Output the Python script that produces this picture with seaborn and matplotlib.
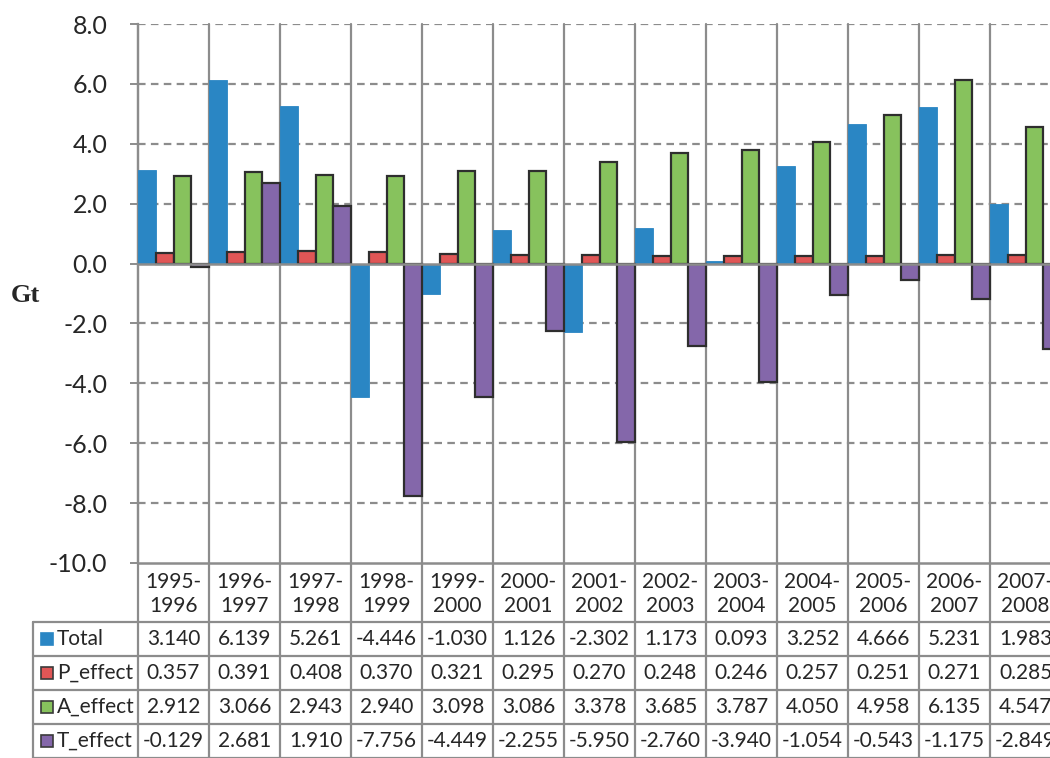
import numpy as np
import pandas as pd
import matplotlib
matplotlib.use("Agg")
import matplotlib.pyplot as plt
import matplotlib.transforms as mtransforms
from matplotlib.lines import Line2D
from matplotlib.patches import Rectangle
import seaborn as sns

# ---- data (Gt) ----
periods = ["1995-\n1996", "1996-\n1997", "1997-\n1998", "1998-\n1999", "1999-\n2000",
           "2000-\n2001", "2001-\n2002", "2002-\n2003", "2003-\n2004", "2004-\n2005",
           "2005-\n2006", "2006-\n2007", "2007-\n2008"]
series_names = ["Total", "P_effect", "A_effect", "T_effect"]
total = [3.140, 6.139, 5.261, -4.446, -1.030, 1.126, -2.302, 1.173, 0.093, 3.252, 4.666, 5.231, 1.983]
p_effect = [0.357, 0.391, 0.408, 0.370, 0.321, 0.295, 0.270, 0.248, 0.246, 0.257, 0.251, 0.271, 0.285]
a_effect = [2.912, 3.066, 2.943, 2.940, 3.098, 3.086, 3.378, 3.685, 3.787, 4.050, 4.958, 6.135, 4.547]
t_effect = [-0.129, 2.681, 1.910, -7.756, -4.449, -2.255, -5.950, -2.760, -3.940, -1.054, -0.543, -1.175, -2.849]
y_ticks = [8.0, 6.0, 4.0, 2.0, 0.0, -2.0, -4.0, -6.0, -8.0, -10.0]

colors = ["#2A86C4", "#E05656", "#87C25D", "#8467AA"]
edge_colors = ["#2A86C4", "#2E2E2E", "#2E2E2E", "#2E2E2E"]
GRID = "#8C8C8C"

values = [total, p_effect, a_effect, t_effect]
df = pd.DataFrame({
    "period": np.repeat([periods], 4, axis=0).ravel(),
    "series": np.repeat(series_names, len(periods)),
    "value": np.concatenate(values),
})

sns.set_style("white")
plt.rcParams["font.family"] = ["Lato", "DejaVu Sans"]

W, H = 1050, 758
fig = plt.figure(figsize=(W / 100, H / 100), dpi=100)

def fx(x):
    return x / W

def fy(y):
    return 1 - y / H

# plot area runs past the right edge of the figure
left_px, right_px, top_px, bot_px = 138, 1061, 24, 563
ax = fig.add_axes([fx(left_px), fy(bot_px), fx(right_px - left_px), (bot_px - top_px) / H])

sns.barplot(data=df, x="period", y="value", hue="series", hue_order=series_names,
            order=periods, palette=colors, width=1.0, gap=0, dodge=True,
            saturation=1, legend=False, ax=ax, zorder=3)

for cont, ec, name in zip(ax.containers, edge_colors, series_names):
    for bar in cont:
        bar.set_edgecolor(ec)
        bar.set_linewidth(0.6 if name == "Total" else 1.6)
        bar.set_zorder(3)

ax.set_xlim(-0.5, len(periods) - 0.5)
ax.set_ylim(-10, 8)
ax.set_yticks(y_ticks)
ax.set_yticklabels([f"{v:.1f}" for v in y_ticks], fontsize=18)
ax.set_xticks([])
ax.set_xlabel("")
ax.set_ylabel("")
ax.tick_params(axis="y", which="major", direction="out", length=6, width=1.4,
               color=GRID, pad=16, left=True)

for s in ["top", "right", "bottom"]:
    ax.spines[s].set_visible(False)
ax.spines["left"].set_color(GRID)
ax.spines["left"].set_linewidth(1.6)

# dashed horizontal gridlines
for v in y_ticks:
    if v == 0.0 or v == -10.0:
        continue
    ax.axhline(v, color=GRID, lw=1.6, ls=(0, (3.4, 2.4)), zorder=1)
ax.axhline(0.0, color=GRID, lw=1.8, zorder=4)
ax.axhline(-10.0, color=GRID, lw=1.8, zorder=4, clip_on=False)

# category separators continue down through the data table
blend = mtransforms.blended_transform_factory(ax.transData, fig.transFigure)
for k in range(len(periods) + 1):
    ax.add_line(Line2D([k - 0.5, k - 0.5], [fy(top_px), fy(H + 2)], transform=blend,
                       color=GRID, lw=1.6, clip_on=False, zorder=2))

# data table below the plot
header_top, header_bot = 563, 622
row_edges = [622, 656, 690, 724, 758]
table_left = 33
TFS = 15
for y in row_edges:
    fig.add_artist(Line2D([fx(table_left), fx(W + 20)], [fy(y), fy(y)], color=GRID, lw=1.6))
fig.add_artist(Line2D([fx(table_left), fx(table_left)], [fy(row_edges[0]), fy(H + 2)],
                      color=GRID, lw=1.6))

for i, p in enumerate(periods):
    ax.text(i, fy((header_top + header_bot) / 2 + 1), p, transform=blend, ha="center",
            va="center", fontsize=TFS, linespacing=1.25, clip_on=False)

for r, (name, vals) in enumerate(zip(series_names, values)):
    yc = (row_edges[r] + row_edges[r + 1]) / 2
    for i, v in enumerate(vals):
        ax.text(i, fy(yc), f"{v:.3f}", transform=blend, ha="center", va="center",
                fontsize=TFS, clip_on=False)
    ec = colors[r] if name == "Total" else "#3A3A3A"
    fig.add_artist(Rectangle((fx(41), fy(yc + 6)), fx(12), 12 / H, facecolor=colors[r],
                             edgecolor=ec, lw=1.2, transform=fig.transFigure))
    fig.text(fx(57), fy(yc), name, ha="left", va="center", fontsize=TFS)

fig.text(fx(25), fy(296), "Gt", ha="center", va="center", fontsize=19,
         fontweight="bold", family=["Liberation Serif", "DejaVu Serif"])

fig.savefig("out.png", dpi=100)
